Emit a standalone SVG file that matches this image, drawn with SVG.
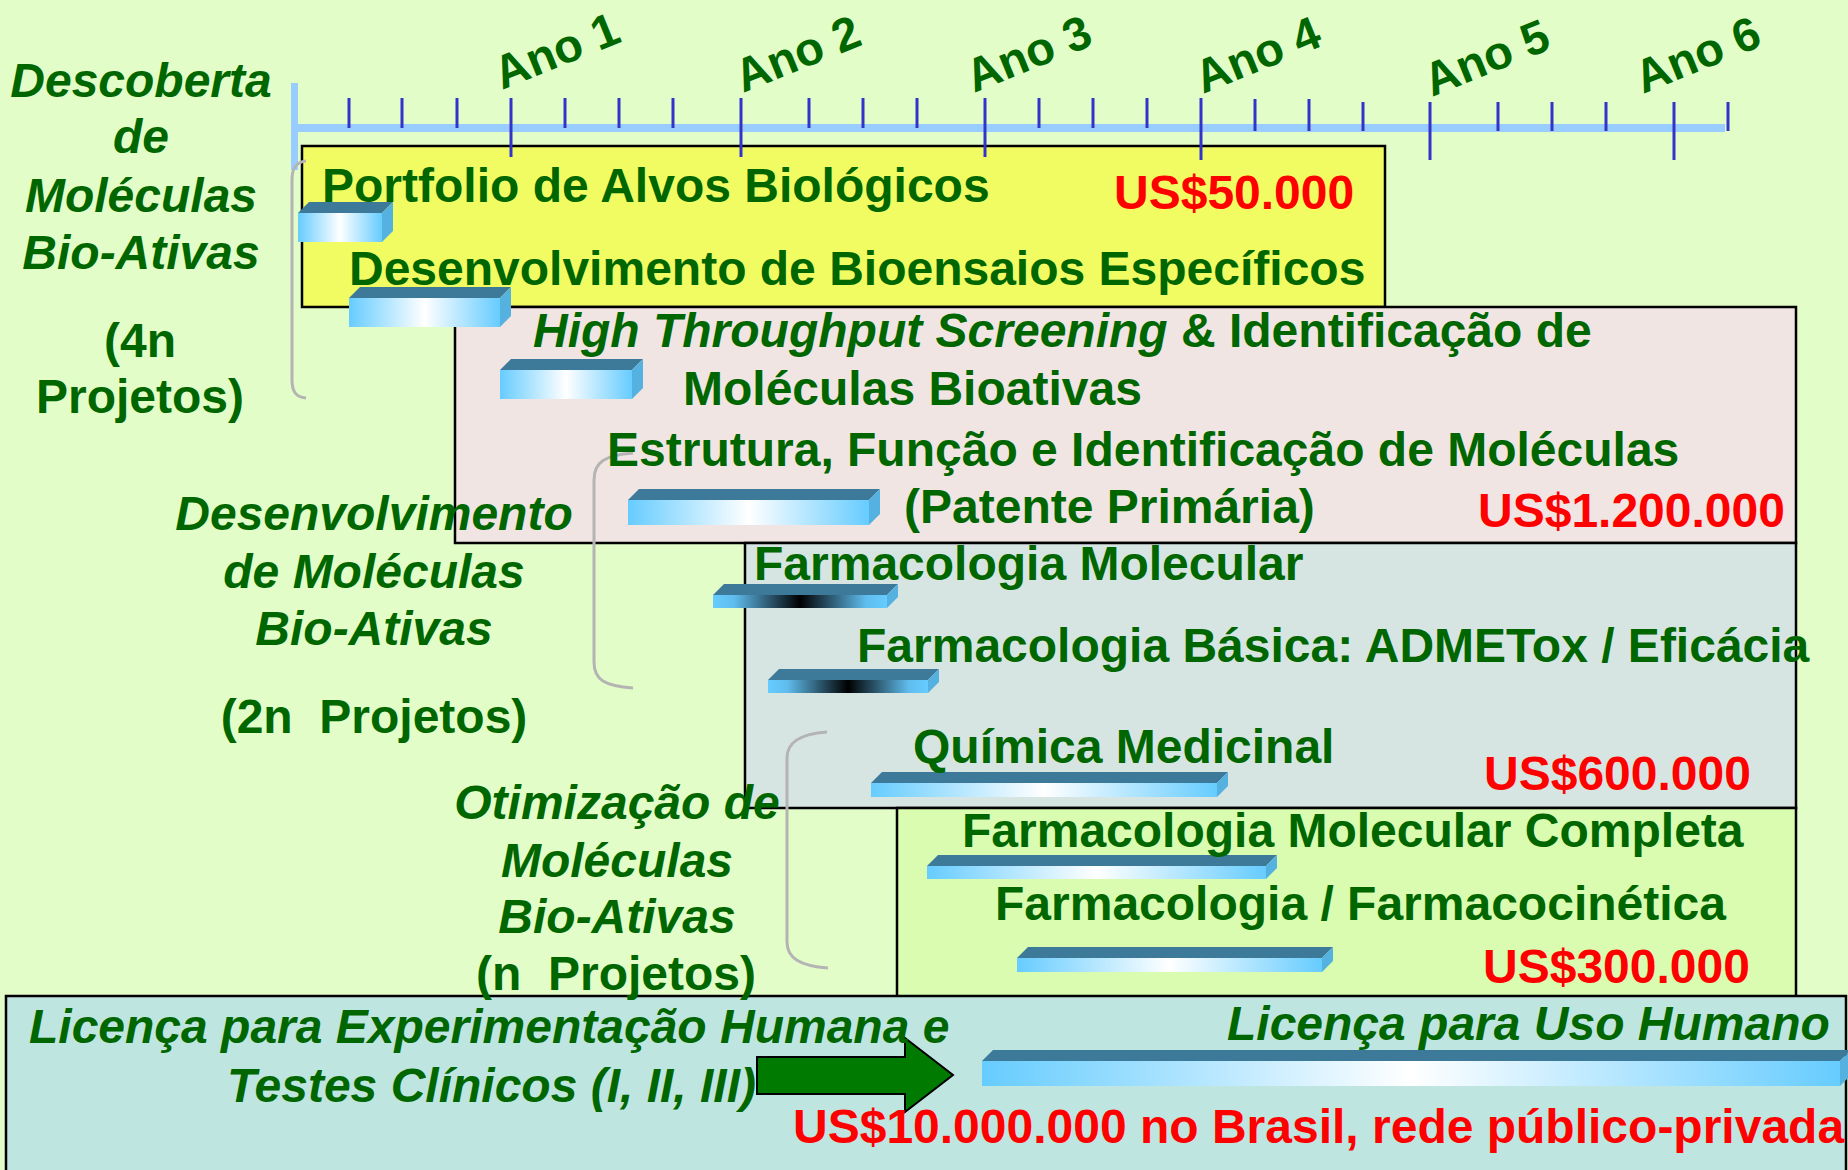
<svg xmlns="http://www.w3.org/2000/svg" width="1848" height="1170" viewBox="0 0 1848 1170">
<style>
.t{font-family:"Liberation Sans",Arial,sans-serif;font-weight:bold;font-size:48px;fill:#006600}
.i{font-style:italic}
.r{fill:#ff0000}
.c{text-anchor:middle}
.ano{font-family:"Liberation Sans",Arial,sans-serif;font-weight:bold;font-size:47px;fill:#006600}
.box{stroke:#000;stroke-width:2.5}
.tk{stroke:#3333cc;stroke-width:3}
.br{fill:none;stroke:#b4b4b4;stroke-width:3}
.top{fill:#3d7999}
.side{fill:#55b2e0}
</style>
<defs>
<linearGradient id="gw" x1="0" y1="0" x2="1" y2="0">
<stop offset="0" stop-color="#66ccff"/>
<stop offset="0.5" stop-color="#ffffff"/>
<stop offset="1" stop-color="#66ccff"/>
</linearGradient>
<linearGradient id="gb" x1="0" y1="0" x2="1" y2="0">
<stop offset="0" stop-color="#66ccff"/>
<stop offset="0.12" stop-color="#5fbdee"/>
<stop offset="0.5" stop-color="#000000"/>
<stop offset="0.88" stop-color="#5fbdee"/>
<stop offset="1" stop-color="#66ccff"/>
</linearGradient>
</defs>
<rect width="1848" height="1170" fill="#e3fdc8"/>

<g id="boxes">
<rect id="box-yellow" class="box" x="302" y="146" width="1083" height="161" fill="#f1fc62"/>
<rect id="box-pink" class="box" x="455" y="307" width="1341" height="236" fill="#f0e5e2"/>
<rect id="box-gray" class="box" x="745" y="543" width="1051" height="265" fill="#d7e5e2"/>
<rect id="box-green" class="box" x="897" y="808" width="899" height="190" fill="#d9fcb0"/>
<rect id="box-teal" class="box" x="6" y="996" width="1840" height="190" fill="#bfe5e1"/>
</g>

<g id="axis">
<rect x="295" y="124" width="1430" height="8" fill="#99ccff"/>
<rect x="291" y="83" width="7" height="87" fill="#99ccff"/>
<g class="tk">
<line x1="349" y1="98" x2="349" y2="128"/>
<line x1="402" y1="98" x2="402" y2="128"/>
<line x1="457" y1="98" x2="457" y2="128"/>
<line x1="511" y1="98" x2="511" y2="157"/>
<line x1="565" y1="98" x2="565" y2="128"/>
<line x1="619" y1="98" x2="619" y2="128"/>
<line x1="673" y1="98" x2="673" y2="128"/>
<line x1="741" y1="98" x2="741" y2="157"/>
<line x1="809" y1="98" x2="809" y2="128"/>
<line x1="863" y1="98" x2="863" y2="128"/>
<line x1="917" y1="98" x2="917" y2="128"/>
<line x1="985" y1="98" x2="985" y2="157"/>
<line x1="1039" y1="98" x2="1039" y2="128"/>
<line x1="1093" y1="98" x2="1093" y2="128"/>
<line x1="1147" y1="98" x2="1147" y2="128"/>
<line x1="1201" y1="98" x2="1201" y2="160"/>
<line x1="1255" y1="99" x2="1255" y2="131"/>
<line x1="1309" y1="99" x2="1309" y2="131"/>
<line x1="1363" y1="102" x2="1363" y2="131"/>
<line x1="1430" y1="102" x2="1430" y2="160"/>
<line x1="1498" y1="102" x2="1498" y2="131"/>
<line x1="1552" y1="102" x2="1552" y2="131"/>
<line x1="1606" y1="102" x2="1606" y2="131"/>
<line x1="1674" y1="102" x2="1674" y2="160"/>
<line x1="1728" y1="102" x2="1728" y2="131"/>
</g>
<text class="ano" transform="translate(502,90) rotate(-22)">Ano 1</text>
<text class="ano" transform="translate(743,93) rotate(-22)">Ano 2</text>
<text class="ano" transform="translate(974,93) rotate(-22)">Ano 3</text>
<text class="ano" transform="translate(1203,94) rotate(-22)">Ano 4</text>
<text class="ano" transform="translate(1432,97) rotate(-22)">Ano 5</text>
<text class="ano" transform="translate(1643,94) rotate(-22)">Ano 6</text>
</g>

<g id="connectors">
<path class="br" d="M306 161 C296 162 292 168 292 180 L292 380 C292 392 296 397 306 398"/>
<path class="br" d="M633 453 C605 455 594 462 594 480 L594 662 C594 680 605 686 633 688"/>
<path class="br" d="M827 732 C800 734 787 742 787 758 L787 942 C787 958 800 966 828 968"/>
<path d="M757 1057 L905 1057 L905 1038 L953 1075 L905 1112 L905 1094 L757 1094 Z" fill="#007a00" stroke="#000" stroke-width="2"/>
</g>

<g id="bars">
<g id="bar1"><rect x="298" y="213" width="84" height="29" fill="url(#gw)"/><polygon class="top" points="298,213 309,202 393,202 382,213"/><polygon class="side" points="382,213 393,202 393,231 382,242"/></g>
<g id="bar2"><rect x="349" y="298" width="151" height="29" fill="url(#gw)"/><polygon class="top" points="349,298 360,287 511,287 500,298"/><polygon class="side" points="500,298 511,287 511,316 500,327"/></g>
<g id="bar3"><rect x="500" y="370" width="132" height="29" fill="url(#gw)"/><polygon class="top" points="500,370 511,359 643,359 632,370"/><polygon class="side" points="632,370 643,359 643,388 632,399"/></g>
<g id="bar4"><rect x="628" y="500" width="241" height="25" fill="url(#gw)"/><polygon class="top" points="628,500 639,489 880,489 869,500"/><polygon class="side" points="869,500 880,489 880,514 869,525"/></g>
<g id="bar5"><rect x="713" y="595" width="174" height="13" fill="url(#gb)"/><polygon class="top" points="713,595 724,584 898,584 887,595"/><polygon class="side" points="887,595 898,584 898,597 887,608"/></g>
<g id="bar6"><rect x="768" y="680" width="160" height="13" fill="url(#gb)"/><polygon class="top" points="768,680 779,669 939,669 928,680"/><polygon class="side" points="928,680 939,669 939,682 928,693"/></g>
<g id="bar7"><rect x="871" y="783" width="346" height="14" fill="url(#gw)"/><polygon class="top" points="871,783 882,772 1228,772 1217,783"/><polygon class="side" points="1217,783 1228,772 1228,786 1217,797"/></g>
<g id="bar8"><rect x="927" y="866" width="339" height="13" fill="url(#gw)"/><polygon class="top" points="927,866 938,855 1277,855 1266,866"/><polygon class="side" points="1266,866 1277,855 1277,868 1266,879"/></g>
<g id="bar9"><rect x="1017" y="958" width="305" height="14" fill="url(#gw)"/><polygon class="top" points="1017,958 1028,947 1333,947 1322,958"/><polygon class="side" points="1322,958 1333,947 1333,961 1322,972"/></g>
<g id="bar10"><rect x="982" y="1061" width="858" height="25" fill="url(#gw)"/><polygon class="top" points="982,1061 993,1050 1851,1050 1840,1061"/><polygon class="side" points="1840,1061 1851,1050 1851,1075 1840,1086"/></g>
</g>

<g id="labels">
<text class="t i c" x="141" y="97">Descoberta</text>
<text class="t i c" x="141" y="153">de</text>
<text class="t i c" x="141" y="212">Moléculas</text>
<text class="t i c" x="141" y="269">Bio-Ativas</text>
<text class="t c" x="140" y="357">(4n</text>
<text class="t c" x="140" y="413">Projetos)</text>
<text class="t i c" x="374" y="530">Desenvolvimento</text>
<text class="t i c" x="374" y="588">de Moléculas</text>
<text class="t i c" x="374" y="645">Bio-Ativas</text>
<text class="t c" x="374" y="733" xml:space="preserve">(2n  Projetos)</text>
<text class="t i c" x="617" y="819">Otimização de</text>
<text class="t i c" x="617" y="877">Moléculas</text>
<text class="t i c" x="617" y="933">Bio-Ativas</text>
<text class="t c" x="616" y="990" xml:space="preserve">(n  Projetos)</text>
</g>

<g id="tasks">
<text class="t" x="322" y="202">Portfolio de Alvos Biológicos</text>
<text class="t r" x="1114" y="209">US$50.000</text>
<text class="t" x="349" y="285">Desenvolvimento de Bioensaios Específicos</text>
<text class="t" x="533" y="347"><tspan class="i">High Throughput Screening</tspan> &amp; Identificação de</text>
<text class="t" x="683" y="405">Moléculas Bioativas</text>
<text class="t" x="607" y="466">Estrutura, Função e Identificação de Moléculas</text>
<text class="t" x="904" y="523">(Patente Primária)</text>
<text class="t r" x="1478" y="527">US$1.200.000</text>
<text class="t" x="754" y="580">Farmacologia Molecular</text>
<text class="t" x="857" y="662">Farmacologia Básica: ADMETox / Eficácia</text>
<text class="t" x="913" y="763">Química Medicinal</text>
<text class="t r" x="1484" y="790">US$600.000</text>
<text class="t" x="962" y="847">Farmacologia Molecular Completa</text>
<text class="t" x="995" y="920">Farmacologia / Farmacocinética</text>
<text class="t r" x="1483" y="983">US$300.000</text>
<text class="t i" x="29" y="1043">Licença para Experimentação Humana e</text>
<text class="t i" x="227" y="1102">Testes Clínicos (I, II, III)</text>
<text class="t i" x="1227" y="1040">Licença para Uso Humano</text>
<text class="t r" x="793" y="1143">US$10.000.000 no Brasil, rede público-privada</text>
</g>
</svg>
